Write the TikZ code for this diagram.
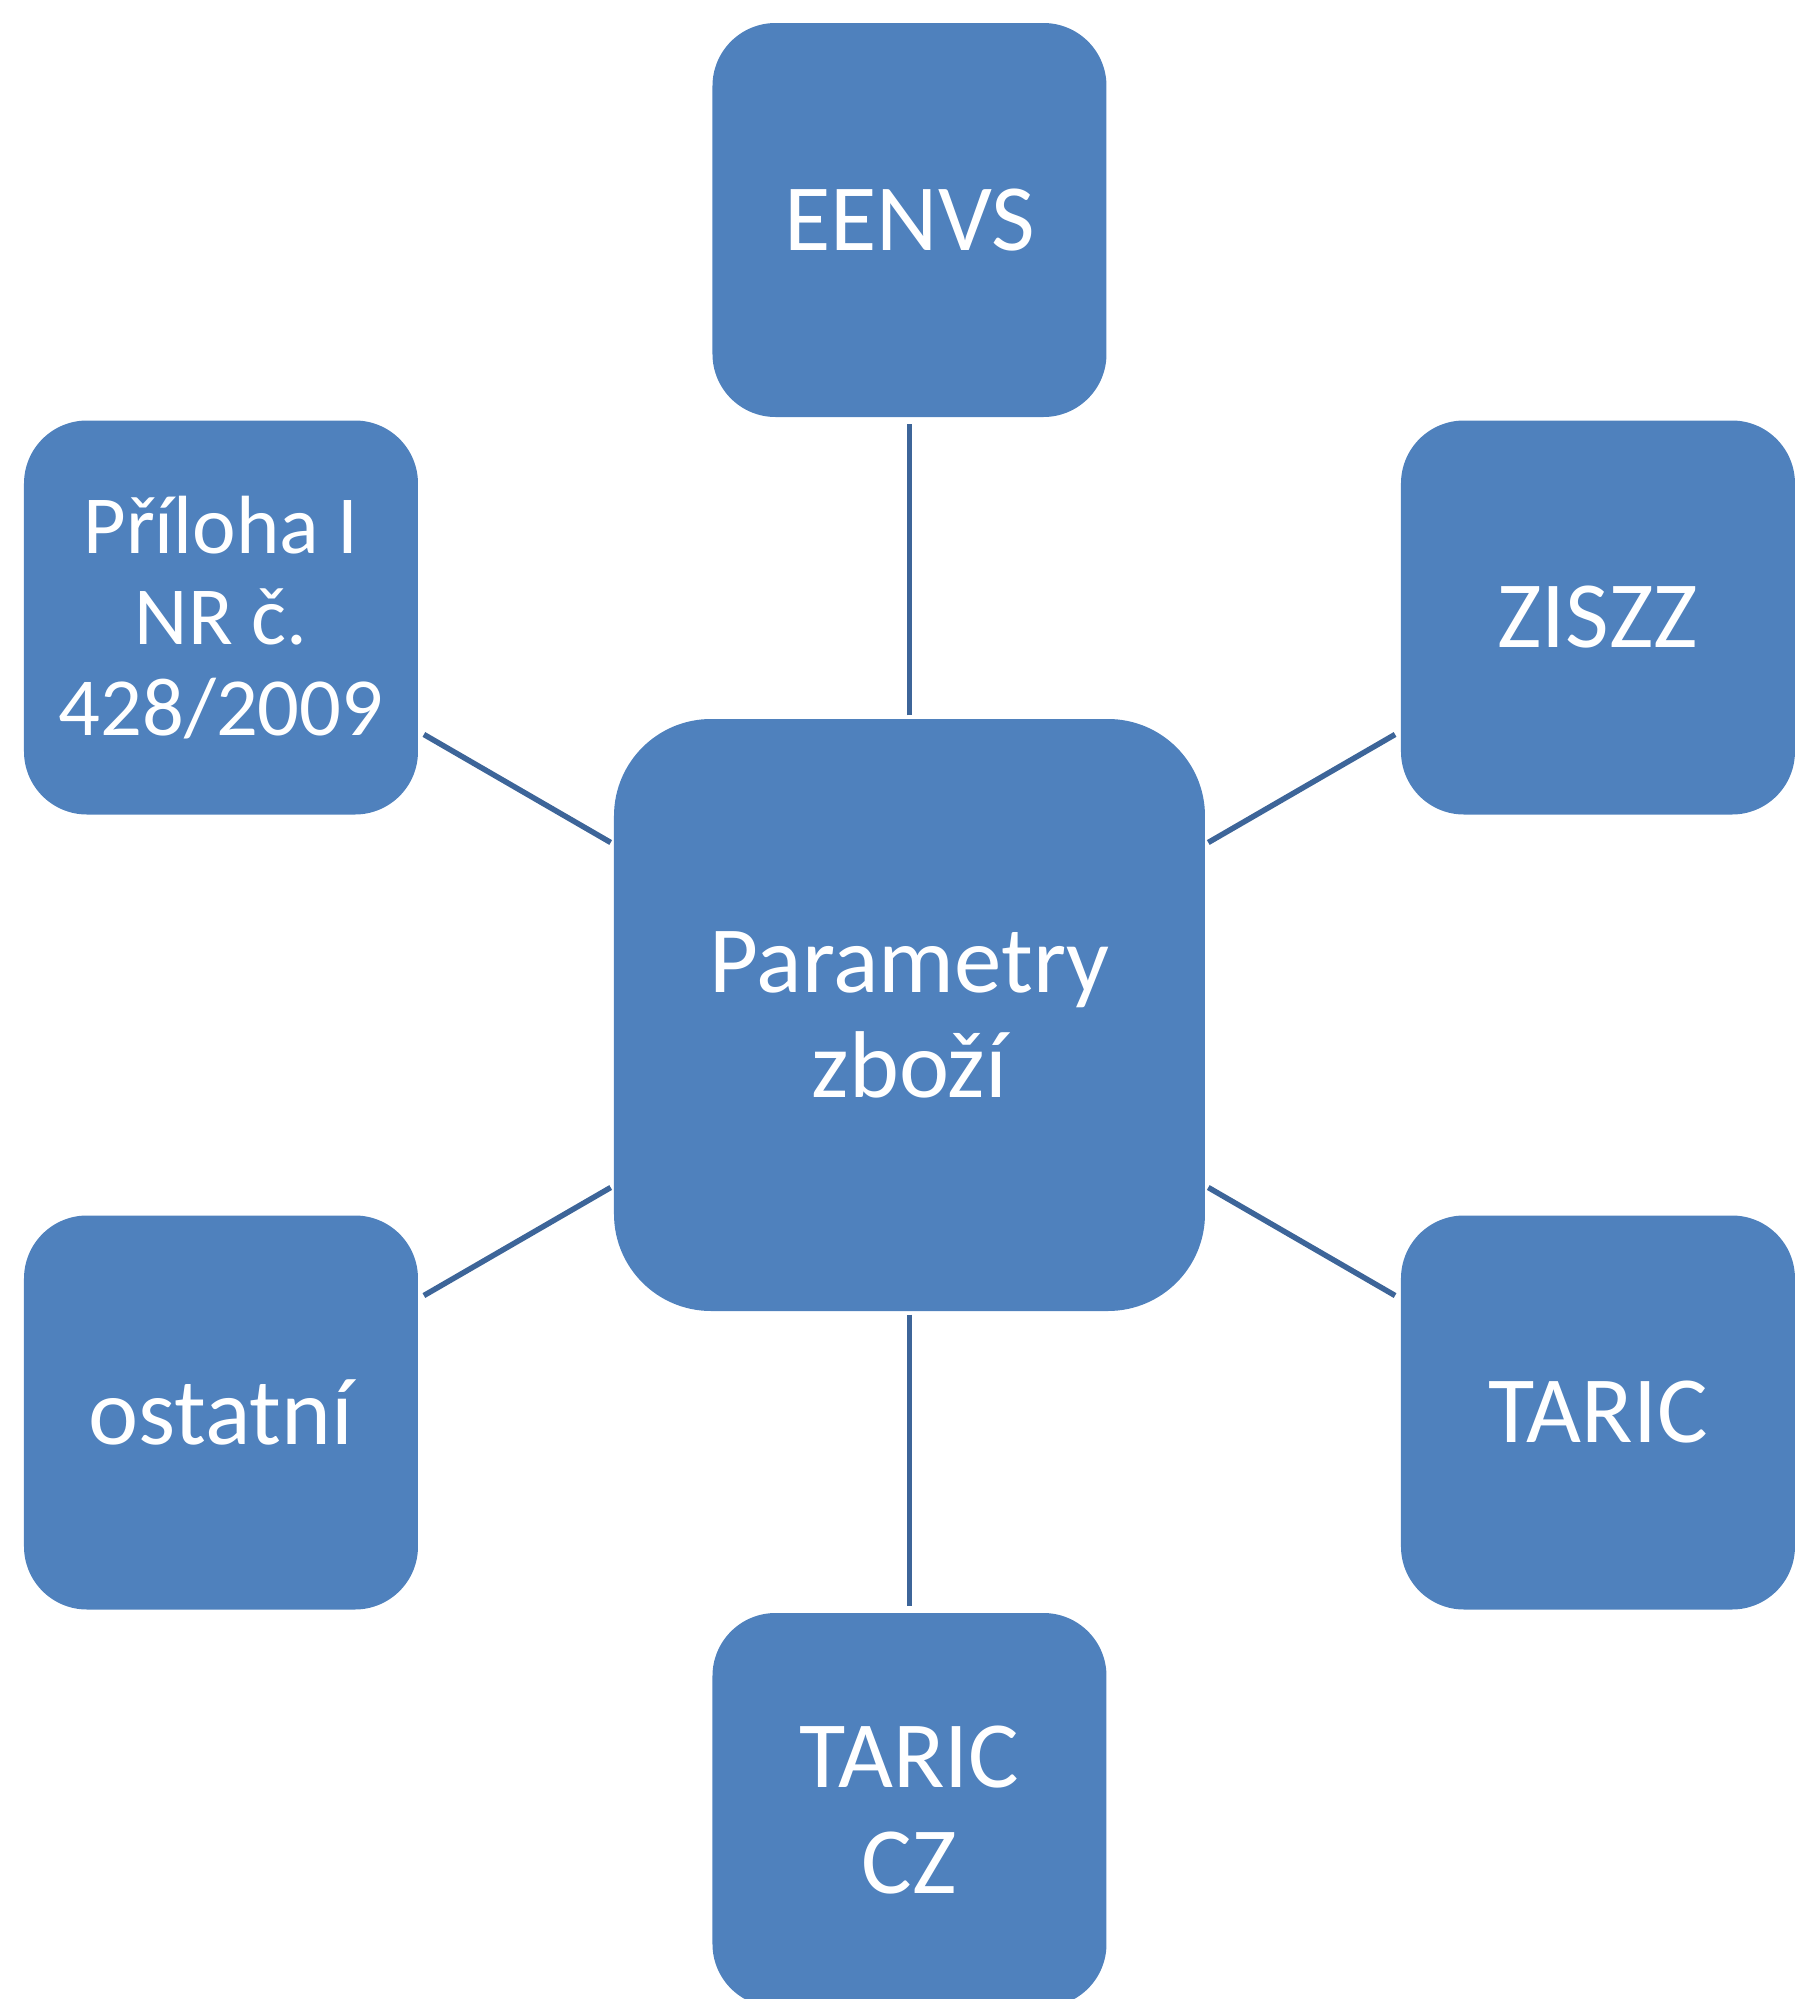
\documentclass[tikz,border=0pt]{standalone}
\usepackage{fontspec}
\setmainfont{Carlito}
\definecolor{boxblue}{HTML}{4F81BD}
\definecolor{lineblue}{HTML}{3D6599}
\begin{document}
\begin{tikzpicture}[
    box/.style={rectangle, rounded corners=0.63cm, fill=boxblue, text=white,
      minimum width=3.94cm, minimum height=3.94cm, inner sep=0pt, align=center,
      font=\fontsize{27}{30}\selectfont},
    bigbox/.style={box, rounded corners=0.97cm, minimum width=5.91cm, minimum height=5.92cm},
    link/.style={draw=lineblue, line width=0.055cm, shorten <=0.03cm, shorten >=0.06cm}]
    \useasboundingbox (-9.095,-9.84) rectangle (8.855,10.15);

    \node[bigbox] (par) at (0,0) {Parametry\\zboží};
    \node[box] (eenvs) at (90:7.95) {EENVS};
    \node[box] (ziszz) at (30:7.95) {ZISZZ};
    \node[box] (taric) at (-30:7.95) {TARIC};
    \node[box] (tariccz) at (-90:7.95) {TARIC\\CZ};
    \node[box] (ostatni) at (-150:7.95) {ostatní};
    \node[box, font=\fontsize{23.5}{26}\selectfont] (priloha) at (150:7.95) {Příloha I\\NR č.\\428/2009};

    \path[link] (par) -- (eenvs);
    \path[link] (par) -- (ziszz);
    \path[link] (par) -- (taric);
    \path[link] (par) -- (tariccz);
    \path[link] (par) -- (ostatni);
    \path[link] (par) -- (priloha);
\end{tikzpicture}
\end{document}
